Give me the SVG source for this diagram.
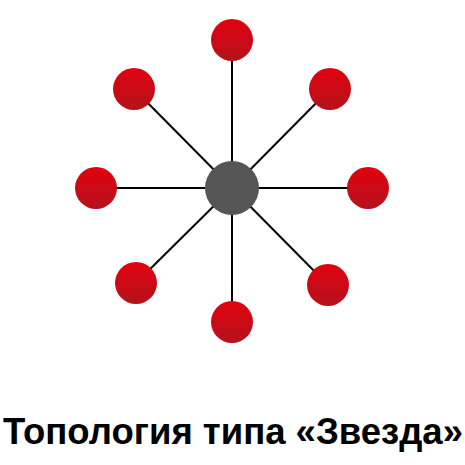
<svg xmlns="http://www.w3.org/2000/svg" width="465" height="465" viewBox="0 0 465 465">
<defs>
<linearGradient id="rg" x1="0" y1="0" x2="0" y2="1">
<stop offset="0" stop-color="#e2000f"/>
<stop offset="1" stop-color="#b3131c"/>
</linearGradient>
<style>
.leaf{fill:url(#rg)}
.hub{fill:#555555}
.link{stroke:#000;stroke-width:2;fill:none}
.title{font-family:"Liberation Sans",Arial,sans-serif;font-weight:bold;font-size:36.5px;fill:#000;text-anchor:middle}
</style>
</defs>
<rect width="465" height="465" fill="#fff"/>
<g id="connectors">
<line class="link" x1="232" y1="188" x2="232" y2="40"/>
<line class="link" x1="232" y1="188" x2="330" y2="89"/>
<line class="link" x1="232" y1="188" x2="368" y2="188"/>
<line class="link" x1="232" y1="188" x2="328" y2="285"/>
<line class="link" x1="232" y1="188" x2="232" y2="322"/>
<line class="link" x1="232" y1="188" x2="136" y2="283"/>
<line class="link" x1="232" y1="188" x2="96" y2="188"/>
<line class="link" x1="232" y1="188" x2="134" y2="89"/>
</g>
<g id="hub"><circle class="hub" cx="232" cy="188" r="27"/></g>
<g id="n-top"><circle class="leaf" cx="232" cy="40" r="21"/></g>
<g id="n-top-right"><circle class="leaf" cx="330" cy="89" r="21"/></g>
<g id="n-right"><circle class="leaf" cx="368" cy="188" r="21"/></g>
<g id="n-bottom-right"><circle class="leaf" cx="328" cy="285" r="21"/></g>
<g id="n-bottom"><circle class="leaf" cx="232" cy="322" r="21"/></g>
<g id="n-bottom-left"><circle class="leaf" cx="136" cy="283" r="21"/></g>
<g id="n-left"><circle class="leaf" cx="96" cy="188" r="21"/></g>
<g id="n-top-left"><circle class="leaf" cx="134" cy="89" r="21"/></g>
<text class="title" x="233" y="444">Топология типа «Звезда»</text>
</svg>
